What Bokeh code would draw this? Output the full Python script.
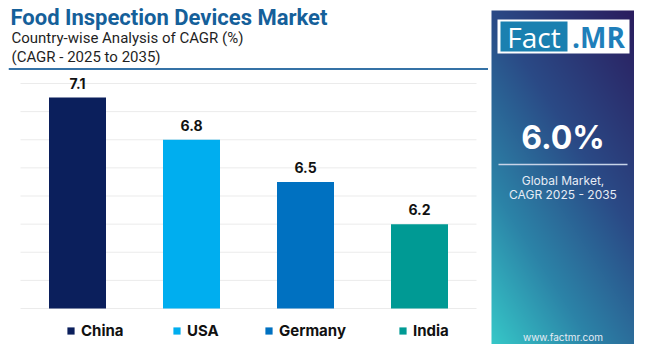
import numpy as np
from bokeh.plotting import figure
from bokeh.layouts import row
from bokeh.models import (ColumnDataSource, LabelSet, Legend, LegendItem,
                          FactorRange, Range1d, LinearScale)
from bokeh.core.properties import value
from bokeh.embed import file_html
from bokeh.resources import INLINE

# ---------------- data ----------------
categories = ["China", "USA", "Germany", "India"]
cagr = [7.1, 6.8, 6.5, 6.2]
cagr_labels = ["7.1", "6.8", "6.5", "6.2"]
bar_colors = ["#0b1f5c", "#00aeef", "#0071c1", "#009a94"]
y_min, y_max = 5.6, 7.2
grid_ticks = [5.6, 5.8, 6.0, 6.2, 6.4, 6.6, 6.8, 7.0, 7.2]
title = "Food Inspection Devices Market"
subtitle1 = "Country-wise Analysis of CAGR (%)"
subtitle2 = "(CAGR - 2025 to 2035)"
global_cagr = "6.0%"
global_text1 = "Global Market,"
global_text2 = "CAGR 2025 - 2035"
website = "www.factmr.com"

FONT = "Inter"
HFONT = "Roboto"

# ---------------- geometry (pixels in picture) ----------------
W_CHART, H_ALL = 488, 344
FRAME_L = 8                     # chart frame starts at x=8
PLOT_L, PLOT_R = 20, 476        # category band area
PLOT_T, PLOT_B = 83, 308        # y_max / y_min pixel rows
band = (PLOT_R - PLOT_L) / len(categories)
pad_units = (PLOT_L - FRAME_L) / band
px_per_unit = (PLOT_B - PLOT_T) / (y_max - y_min)
y_start = y_min - (H_ALL - PLOT_B) / px_per_unit
y_end = y_max + PLOT_T / px_per_unit


def SX(px):
    """pixel column -> synthetic categorical coordinate"""
    return (px - PLOT_L) / band


p = figure(width=W_CHART, height=H_ALL,
           x_range=FactorRange(*categories, range_padding=pad_units,
                               range_padding_units="absolute"),
           y_range=Range1d(y_start, y_end), output_backend="svg", toolbar_location=None,
           min_border_left=FRAME_L, min_border_right=0, min_border_top=0, min_border_bottom=0)
p.xaxis.visible = False
p.yaxis.visible = False
p.grid.visible = False
p.outline_line_color = None
p.background_fill_color = "white"
p.border_fill_color = "white"
p.extra_y_ranges = {"px": Range1d(H_ALL, 0)}
p.extra_y_scales = {"px": LinearScale()}

# header
p.text(x=[SX(10)], y=[17], text=[title], text_font=value(HFONT), text_font_style="bold",
       text_font_size="22px", text_color="#15609a", text_baseline="middle",
       y_range_name="px")
p.text(x=[SX(11)], y=[37.5], text=[subtitle1], text_font=value(HFONT),
       text_font_size="15px", text_color="#1f1f1f", text_baseline="middle",
       y_range_name="px")
p.text(x=[SX(11)], y=[56.5], text=[subtitle2], text_font=value(HFONT),
       text_font_size="15px", text_color="#1f1f1f", text_baseline="middle",
       y_range_name="px")
p.segment(x0=[SX(FRAME_L)], y0=[68.5], x1=[SX(W_CHART)], y1=[68.5], line_color="#3572a6",
          line_width=2, y_range_name="px")

# grid lines across the category band area
n = len(categories)
p.segment(x0=[0] * len(grid_ticks), x1=[n] * len(grid_ticks),
          y0=grid_ticks, y1=grid_ticks, line_color="#ebebeb", line_width=1)

src = ColumnDataSource(dict(x=categories, top=cagr, label=cagr_labels, color=bar_colors))
bars = p.vbar(x="x", top="top", bottom=y_min, width=0.5, fill_color="color",
              line_color=None, source=src)
p.add_layout(LabelSet(x="x", y="top", text="label", source=src, y_offset=9,
                      text_align="center", text_baseline="bottom",
                      text_font=value(FONT), text_font_style="bold",
                      text_font_size="14px", text_color="#111111"))

legend_x = [66, 172, 264, 398]
for i, cat in enumerate(categories):
    lg = Legend(items=[LegendItem(label=cat, renderers=[bars], index=i)],
                location=(legend_x[i] - FRAME_L, 4), orientation="horizontal",
                padding=0, margin=0, border_line_color=None,
                background_fill_alpha=0, glyph_width=9, glyph_height=9,
                label_standoff=6, label_height=16,
                label_text_font=FONT, label_text_font_style="bold",
                label_text_font_size="15px", label_text_color="#111111")
    p.add_layout(lg, "center")

# ---------------- right panel ----------------
PX0, PX1 = W_CHART, 634
panel = figure(width=PX1 - PX0, height=H_ALL, x_range=Range1d(PX0, PX1), y_range=Range1d(0, H_ALL),
               output_backend="svg", toolbar_location=None,
               min_border=0, min_border_left=0, min_border_right=0,
               min_border_top=0, min_border_bottom=0)
panel.axis.visible = False
panel.grid.visible = False
panel.outline_line_color = None
panel.background_fill_color = "white"
panel.border_fill_color = "white"

G_L, G_T = 491, 10
GW, GH = PX1 - G_L, H_ALL - G_T
u = np.linspace(0, 1, GW)[None, :]
v = np.linspace(1, 0, GH)[:, None]  # row 0 = bottom
t = 0.6 * v + 0.4 * (1 - u)
stops = [0.0, 0.4, 0.72, 1.0]
cols = np.array([[0x2b, 0x1d, 0x5e], [0x2a, 0x4a, 0x86], [0x2c, 0x84, 0xa8], [0x36, 0xc8, 0xc8]], float)
img = np.empty((GH, GW), dtype=np.uint32)
view = img.view(dtype=np.uint8).reshape((GH, GW, 4))
for c in range(3):
    view[:, :, c] = np.interp(t, stops, cols[:, c]).astype(np.uint8)
view[:, :, 3] = 255
panel.image_rgba(image=[img], x=G_L, y=0, dw=GW, dh=GH)


def Y(ref_y):
    return H_ALL - ref_y


CX = (G_L + PX1) / 2
# logo
panel.quad(left=[497], right=[629], top=[Y(19)], bottom=[Y(53)], fill_color="white", line_color=None)
panel.quad(left=[500], right=[567], top=[Y(21)], bottom=[Y(51)], fill_color="#1a80b0", line_color=None)
panel.text(x=[533.5], y=[Y(36)], text=["Fact"], text_font=value("Open Sans"), text_font_size="28px",
           text_color="white", text_align="center", text_baseline="middle")
panel.text(x=[598], y=[Y(36)], text=[".MR"], text_font=value("Open Sans"), text_font_style="bold",
           text_font_size="28px", text_color="#1f7fba", text_align="center", text_baseline="middle")

panel.text(x=[CX], y=[Y(137)], text=[global_cagr], text_font=value(FONT), text_font_style="bold",
           text_font_size="32px", text_color="white", text_align="center", text_baseline="middle")
panel.segment(x0=[498], y0=[Y(164)], x1=[627], y1=[Y(164)], line_color="#c8d4e8", line_width=1.5)
panel.text(x=[CX], y=[Y(180)], text=[global_text1], text_font=value(FONT),
           text_font_size="12px", text_color="#e6ecf5", text_align="center", text_baseline="middle")
panel.text(x=[CX], y=[Y(194)], text=[global_text2], text_font=value(FONT),
           text_font_size="12px", text_color="#e6ecf5", text_align="center", text_baseline="middle")
panel.text(x=[CX], y=[Y(336)], text=[website], text_font=value(FONT),
           text_font_size="10px", text_color="#e6ecf5", text_align="center", text_baseline="middle")

layout = row(p, panel, spacing=0)
open("out.html", "w").write(file_html(layout, INLINE))
